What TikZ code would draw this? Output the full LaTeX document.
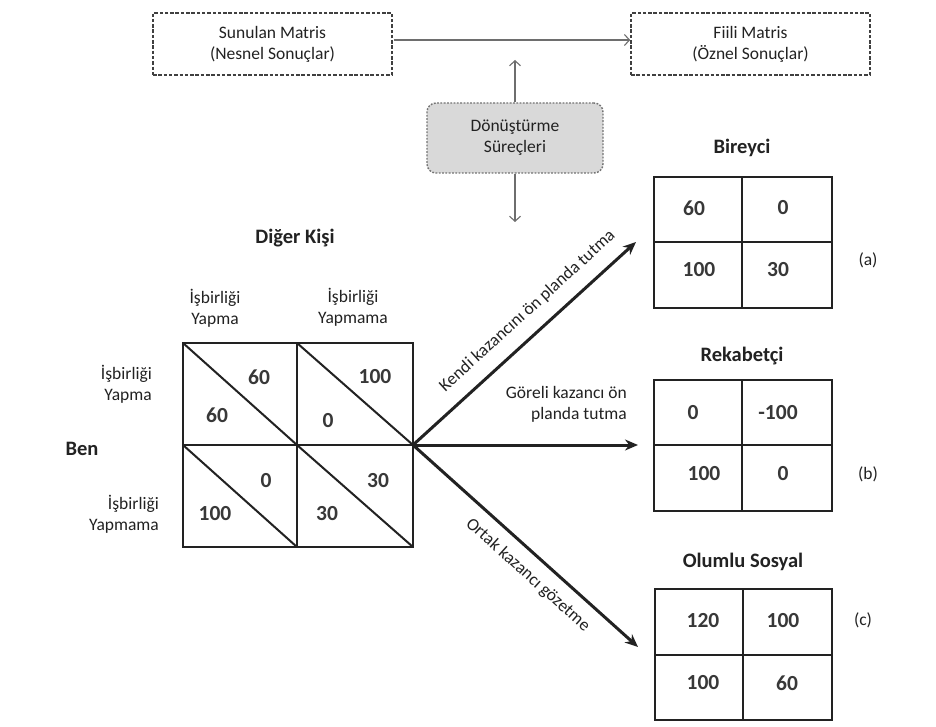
\documentclass[tikz,border=0pt]{standalone}
\usepackage{fontspec}
\setmainfont{Carlito}
\usetikzlibrary{arrows.meta}
\definecolor{ink}{HTML}{222222}
\definecolor{grayline}{HTML}{6E6E6E}
\tikzset{
  txt/.style={font=\fontsize{17.5}{21}\selectfont, align=center, text=ink, inner sep=0pt},
  ttl/.style={font=\bfseries\fontsize{20.5}{24}\selectfont, text=ink, inner sep=0pt},
  num/.style={font=\bfseries\fontsize{21.5}{24}\selectfont, text=black!78, inner sep=0pt},
  dashbox/.style={draw=black!75, line width=1.6pt, dash pattern=on 3.5pt off 1.8pt,
    minimum width=239pt, minimum height=62pt, txt},
  procbox/.style={draw=black!55, line width=1.4pt, dash pattern=on 1.8pt off 1.5pt,
    fill=black!15, rounded corners=9pt, minimum width=176pt, minimum height=70pt, txt},
  thinarrow/.style={draw=grayline, line width=1.1pt, -{Straight Barb[length=5pt,width=11pt]}},
  bigarrow/.style={draw=ink, line width=3pt, -{Stealth[length=13pt,width=11pt]}},
  grid/.style={draw=ink, line width=2pt}
}
\begin{document}
\begin{tikzpicture}[x=1pt,y=-1pt]
\useasboundingbox (0,0) rectangle (936,727);
\fill[white] (0,0) rectangle (936,727);

% top boxes
\node[dashbox] (sun) at (272.5,44) {Sunulan Matris\\(Nesnel Sonuçlar)};
\node[dashbox] (fii) at (750.5,44) {Fiili Matris\\(Öznel Sonuçlar)};
\draw[thinarrow] (sun.east) ++(1,-4) coordinate (sunout) -- (fii.west |- sunout);

% transformation box
\node[procbox] (don) at (515,138) {Dönüştürme\\Süreçleri};
\coordinate (upend) at (515,60);
\coordinate (downend) at (515,222);
\draw[thinarrow] (don.north) -- (upend);
\draw[thinarrow] (don.south) -- (downend);

% main matrix
\draw[grid] (183,343) rectangle (413,547);
\draw[grid] (297,343) -- (297,547);
\draw[grid] (183,445) -- (413,445);
\draw[grid] (183,343) -- (297,445);
\draw[grid] (297,343) -- (413,445);
\draw[grid] (183,445) -- (297,547);
\draw[grid] (297,445) -- (413,547);
\coordinate (mx) at (413,445);

\node[num] (n11a) at (259,377) {60};
\node[num] (n11b) at (217,415) {60};
\node[num] (n12a) at (375,377) {100};
\node[num] (n12b) at (328,421) {0};
\node[num] (n21a) at (266,481) {0};
\node[num] (n21b) at (215,514) {100};
\node[num] (n22a) at (378,481) {30};
\node[num] (n22b) at (327,514) {30};

% matrix labels
\node[ttl] (diger) at (295,238) {Diğer Kişi};
\node[txt] (c1) at (215,308.5) {İşbirliği\\Yapma};
\node[txt] (c2) at (353,307.5) {İşbirliği\\Yapmama};
\node[txt, align=right, anchor=east] (r1) at (152,384.5) {İşbirliği\\Yapma};
\node[txt, align=right, anchor=east] (r2) at (159,514.5) {İşbirliği\\Yapmama};
\node[ttl] (ben) at (82,449) {Ben};

% arrows to result matrices
\coordinate (endA) at (636,242);
\coordinate (endB) at (638,445);
\coordinate (endC) at (638,647);
\draw[bigarrow] (mx) -- node[txt, sloped, above=13pt, pos=0.58] (labA) {Kendi kazancını ön planda tutma} (endA);
\draw[bigarrow] (mx) -- (endB);
\draw[bigarrow] (mx) -- node[txt, sloped, below=11pt, pos=0.57] (labC) {Ortak kazancı gözetme} (endC);
\node[txt, align=right, anchor=east] (labB) at (627,404) {Göreli kazancı ön\\planda tutma};

% (a) Bireyci
\node[ttl] (tA) at (742,148) {Bireyci};
\draw[grid] (654,177) rectangle (832,308);
\draw[grid] (742,177) -- (742,308);
\draw[grid] (654,242) -- (832,242);
\node[num] (a11) at (694,208) {60};
\node[num] (a12) at (783,208) {0};
\node[num] (a21) at (699,270) {100};
\node[num] (a22) at (778,270) {30};
\node[txt] (la) at (868,260) {(a)};

% (b) Rekabetci
\node[ttl] (tB) at (742,356) {Rekabetçi};
\draw[grid] (654,380) rectangle (832,511);
\draw[grid] (742,380) -- (742,511);
\draw[grid] (654,445) -- (832,445);
\node[num] (b11) at (693,413) {0};
\node[num] (b12) at (778,413) {-100};
\node[num] (b21) at (704,474) {100};
\node[num] (b22) at (783,474) {0};
\node[txt] (lb) at (868,474) {(b)};

% (c) Olumlu Sosyal
\node[ttl] (tC) at (743,562) {Olumlu Sosyal};
\draw[grid] (655,589) rectangle (832,720);
\draw[grid] (743,589) -- (743,720);
\draw[grid] (655,655) -- (832,655);
\node[num] (c11) at (703,621) {120};
\node[num] (c12) at (783,621) {100};
\node[num] (c21) at (703,683) {100};
\node[num] (c22) at (787,683) {60};
\node[txt] (lc) at (863,620) {(c)};
\end{tikzpicture}
\end{document}
